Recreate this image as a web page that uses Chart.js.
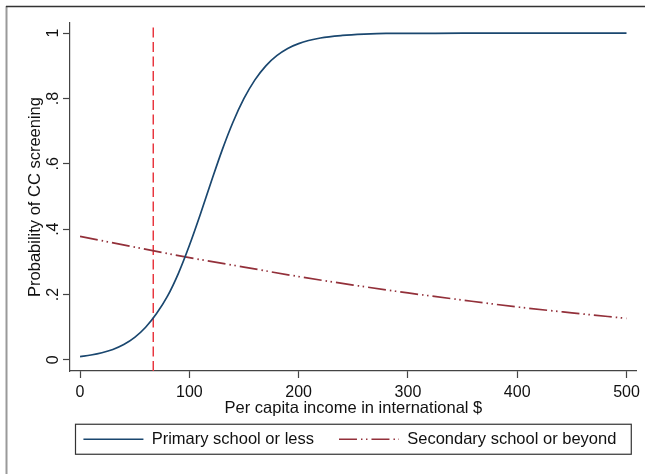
<!DOCTYPE html>
<html>
<head>
<meta charset="utf-8">
<script src="https://cdn.jsdelivr.net/npm/chart.js@4/dist/chart.umd.min.js"></script>
<style>
  body { margin: 0; background: #fff; }
</style>
</head>
<body>
<canvas id="myChart" width="645" height="474"></canvas>
<script>
// predicted probability of CC screening by income
const primaryIncome = [0, 10, 20, 30, 40, 50, 60, 70, 80, 90, 100, 110, 120, 130, 140, 150, 160, 170, 180, 190, 200, 220, 240, 260, 280, 300, 350, 400, 450, 500];
const primaryProb = [0.010, 0.015, 0.022, 0.032, 0.047, 0.069, 0.100, 0.142, 0.195, 0.265, 0.350, 0.445, 0.545, 0.642, 0.728, 0.800, 0.857, 0.900, 0.931, 0.953, 0.968, 0.985, 0.993, 0.997, 0.999, 0.999, 1, 1, 1, 1];
const secondaryIncome = [0, 50, 100, 150, 200, 250, 300, 350, 400, 450, 500];
const secondaryProb = [0.378, 0.345, 0.313, 0.284, 0.255, 0.229, 0.205, 0.183, 0.162, 0.144, 0.127];
const cutoffIncome = 67;

const seriesLabels = ["Primary school or less", "Secondary school or beyond"];
const xTicks = [0, 100, 200, 300, 400, 500];
const yTicks = [0, 0.2, 0.4, 0.6, 0.8, 1];
const yTickLabels = ["0", ".2", ".4", ".6", ".8", "1"];
const xRange = [-9.2, 509.4];
const yRange = [-0.034, 1.031];

const fontFamily = "'Liberation Sans', Arial, sans-serif";
const textColor = "#111";
const axisColor = "#444";

function toPoints(xs, ys) {
  return xs.map((x, i) => ({ x: x, y: ys[i] }));
}

// legend samples take the dataset's line style
function legendLabels(chart) {
  const items = Chart.defaults.plugins.legend.labels.generateLabels(chart);
  items.forEach((item) => {
    const ds = chart.data.datasets[item.datasetIndex];
    item.lineDash = ds.borderDash || [];
    item.lineWidth = ds.borderWidth;
    item.strokeStyle = ds.borderColor;
  });
  return items;
}

// frame edges + box round the legend
const framePlugin = {
  id: "frame",
  afterInit(chart) {
    if (!chart.legend) return;
    const fit = chart.legend.fit;
    chart.legend.fit = function () {
      const mw = this.maxWidth;
      this.maxWidth = 2000; // keep both items on one row
      fit.call(this);
      this.maxWidth = mw;
      this.width = mw;
      this.height = 68;
    };
  },
  afterLayout(chart) {
    const lg = chart.legend;
    const area = chart.chartArea;
    lg.left = area.left - 15;
    lg.right = area.right + 8;
    lg.width = lg.right - lg.left;
  },
  afterDraw(chart) {
    const ctx = chart.ctx;
    const area = chart.chartArea;
    const lg = chart.legend;
    ctx.save();
    ctx.strokeStyle = "#9a9a9a";
    ctx.lineWidth = 2;
    ctx.beginPath();
    ctx.moveTo(6.5, 6);
    ctx.lineTo(6.5, chart.height);
    ctx.stroke();
    ctx.strokeStyle = "#333";
    ctx.lineWidth = 1.5;
    ctx.beginPath();
    ctx.moveTo(6, 6.5);
    ctx.lineTo(chart.width, 6.5);
    ctx.stroke();

    const cy = lg.top + lg.options.labels.padding + lg.options.labels.font.size / 2;
    ctx.strokeStyle = "#333";
    ctx.lineWidth = 1.2;
    ctx.strokeRect(area.left + 5.5, cy - 15, area.right - area.left - 11, 30);
    ctx.restore();
  },
};

const config = {
  type: "scatter",
  data: {
    datasets: [
      {
        label: seriesLabels[0],
        data: toPoints(primaryIncome, primaryProb),
        showLine: true,
        borderColor: "#1a476f",
        borderWidth: 1.7,
        pointRadius: 0,
        cubicInterpolationMode: "monotone",
      },
      {
        label: seriesLabels[1],
        data: toPoints(secondaryIncome, secondaryProb),
        showLine: true,
        borderColor: "#93303a",
        borderWidth: 1.7,
        borderDash: [18, 4, 1.5, 3.5, 1.5, 4],
        pointRadius: 0,
        cubicInterpolationMode: "monotone",
      },
      {
        label: "cutoff",
        data: [
          { x: cutoffIncome, y: yRange[0] },
          { x: cutoffIncome, y: yRange[1] },
        ],
        showLine: true,
        borderColor: "#e8363f",
        borderWidth: 1.5,
        borderDash: [10, 4.5],
        pointRadius: 0,
      },
    ],
  },
  options: {
    responsive: false,
    animation: false,
    layout: { padding: { top: 23, right: 8, left: 0, bottom: 0 } },
    plugins: {
      tooltip: { enabled: false },
      legend: {
        position: "bottom",
        fullSize: false,
        labels: {
          usePointStyle: true,
          pointStyle: "line",
          pointStyleWidth: 60,
          padding: 25,
          color: textColor,
          font: { family: fontFamily, size: 16.5 },
          generateLabels: legendLabels,
          filter: (item) => item.datasetIndex < 2,
        },
      },
    },
    scales: {
      x: {
        type: "linear",
        min: xRange[0],
        max: xRange[1],
        afterBuildTicks: (s) => {
          s.ticks = xTicks.map((v) => ({ value: v }));
        },
        afterFit: (s) => {
          s.height = 35;
        },
        grid: { display: true, drawOnChartArea: false, tickLength: 7, tickColor: axisColor, tickWidth: 1.2 },
        border: { display: true, color: axisColor, width: 1.2 },
        ticks: {
          padding: 5,
          autoSkip: false,
          maxRotation: 0,
          color: textColor,
          font: { family: fontFamily, size: 16 },
        },
        title: {
          display: true,
          text: "Per capita income in international $",
          color: textColor,
          font: { family: fontFamily, size: 16.5 },
          padding: { top: 0, bottom: -12 },
        },
      },
      y: {
        type: "linear",
        min: yRange[0],
        max: yRange[1],
        afterBuildTicks: (s) => {
          s.ticks = yTicks.map((v) => ({ value: v }));
        },
        afterFit: (s) => {
          s.width = 70;
        },
        grid: { display: true, drawOnChartArea: false, tickLength: 7, tickColor: axisColor, tickWidth: 1.2 },
        border: { display: true, color: axisColor, width: 1.2 },
        ticks: {
          minRotation: 90,
          maxRotation: 90,
          crossAlign: "center",
          padding: 3,
          autoSkip: false,
          color: textColor,
          font: { family: fontFamily, size: 16 },
          callback: (value) => yTickLabels[yTicks.indexOf(value)],
        },
        title: {
          display: true,
          text: "Probability of CC screening",
          color: textColor,
          font: { family: fontFamily, size: 16.5 },
          padding: { top: 26, bottom: 0 },
        },
      },
    },
  },
  plugins: [framePlugin],
};

const ctx = document.getElementById("myChart");
const myChart = new Chart(ctx, config);
</script>
</body>
</html>
